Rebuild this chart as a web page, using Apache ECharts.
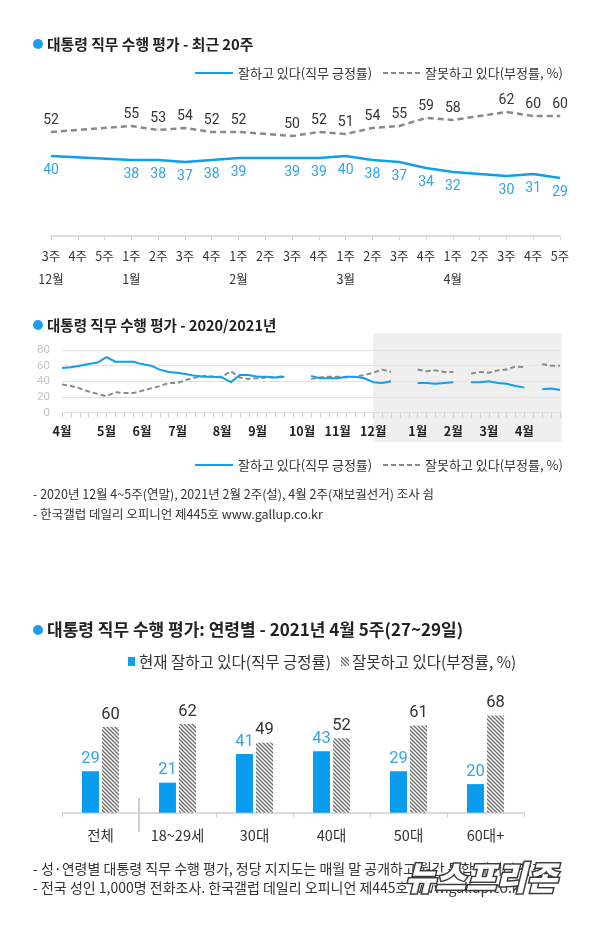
<!DOCTYPE html>
<html><head><meta charset="utf-8">
<script src="https://cdn.jsdelivr.net/npm/echarts@6/dist/echarts.min.js"></script>
<style>html,body{margin:0;padding:0;background:#fff}#c{width:600px;height:947px}</style>
</head><body><div id="c"></div>
<script>
// ---- Panel 1: 최근 20주 ----
const weeks20 = ['3주','4주','5주','1주','2주','3주','4주','1주','2주','3주','4주','1주','2주','3주','4주','1주','2주','3주','4주','5주'];
const months20 = ['12월','','','1월','','','','2월','','','','3월','','','','4월','','','',''];
const pos20 = [40,null,null,38,38,37,38,39,null,39,39,40,38,37,34,32,null,30,31,29];
const neg20 = [52,null,null,55,53,54,52,52,null,50,52,51,54,55,59,58,null,62,60,60];

// ---- Panel 2: 2020/2021년 (weekly) ----
const yearMonths = ['4월','5월','6월','7월','8월','9월','10월','11월','12월','1월','2월','3월','4월'];
const yearMonthWeeks = [5,4,4,5,4,5,4,4,5,4,4,4,5];
const posEarly = [57,58,60,62,64,71,65,65,65,62,60,55,52,51,49,47,46,46,45,39,48,48,46,46,45,46,null,null,47,44,44,44,46,46,44,39,38];
const negEarly = [36,34,31,27,24,21,26,25,25,28,31,34,38,38,42,45,47,46,46,53,45,43,44,45,45,47,null,null,43,45,46,46,45,46,48,51,55];

// ---- Panel 3: 연령별 ----
const ageCats = ['전체','18~29세','30대','40대','50대','60대+'];
const agePos = [29,21,41,43,29,20];
const ageNeg = [60,62,49,52,61,68];

const posYear = posEarly.concat(pos20);
const negYear = negEarly.concat(neg20);
const yearCats = [];
const monthStartIdx = {};
yearMonths.forEach((m, i) => {
  monthStartIdx[yearCats.length] = m;
  for (let w = 1; w <= yearMonthWeeks[i]; w++) yearCats.push((i < 9 ? '2020 ' : '2021 ') + m + ' ' + w + '주');
});
const cats20 = weeks20.map((w, i) => w + '|' + months20[i] + '|' + i);

const BLUE = '#0ea0ec';
const GRAY = '#8a8a8a';
const NUM = '"Roboto","Noto Sans",sans-serif';
const KR = '"Noto Sans CJK KR","Noto Sans",sans-serif';

function hatch() {
  const c = document.createElement('canvas');
  c.width = 4; c.height = 4;
  const g = c.getContext('2d');
  g.fillStyle = '#ffffff'; g.fillRect(0, 0, 4, 4);
  g.strokeStyle = '#6a6a6a'; g.lineWidth = 1.3;
  g.beginPath();
  g.moveTo(-1, -1); g.lineTo(5, 5);
  g.moveTo(-1, 3); g.lineTo(1, 5);
  g.moveTo(3, -1); g.lineTo(5, 1);
  g.stroke();
  return c;
}
const hatchPattern = { image: hatch(), repeat: 'repeat' };

function title(id, y, text, size) {
  return [
    { type: 'circle', id: id + 'dot', shape: { cx: 38, cy: y, r: 5 }, style: { fill: '#1a9ff0' } },
    { type: 'text', id: id + 'txt', x: 47, y: y, style: { text: text, font: 'bold ' + size + 'px ' + KR, fill: '#222', verticalAlign: 'middle' } }
  ];
}
function lineLegend(id, y) {
  return [
    { type: 'line', id: id + 'l1', shape: { x1: 195, y1: y, x2: 233, y2: y }, style: { stroke: BLUE, lineWidth: 2 } },
    { type: 'text', id: id + 't1', x: 238, y: y, style: { text: '잘하고 있다(직무 긍정률)', font: '13px ' + KR, fill: '#333', verticalAlign: 'middle' } },
    { type: 'line', id: id + 'l2', shape: { x1: 383, y1: y, x2: 420, y2: y }, style: { stroke: GRAY, lineWidth: 2, lineDash: [5, 3] } },
    { type: 'text', id: id + 't2', x: 425, y: y, style: { text: '잘못하고 있다(부정률, %)', font: '13px ' + KR, fill: '#333', verticalAlign: 'middle' } }
  ];
}

const graphics = [].concat(
  title('t1', 44, '대통령 직무 수행 평가 - 최근 20주', 14.8),
  lineLegend('lg1', 73),
  title('t2', 325, '대통령 직무 수행 평가 - 2020/2021년', 14.5),
  lineLegend('lg2', 465),
  [
    { type: 'text', id: 'n1', x: 33, y: 494, style: { text: '- 2020년 12월 4~5주(연말), 2021년 2월 2주(설), 4월 2주(재보궐선거) 조사 쉼', font: '12.5px ' + KR, fill: '#333', verticalAlign: 'middle' } },
    { type: 'text', id: 'n2', x: 33, y: 514, style: { text: '- 한국갤럽 데일리 오피니언 제445호 www.gallup.co.kr', font: '12.5px ' + KR, fill: '#333', verticalAlign: 'middle' } }
  ],
  title('t3', 630, '대통령 직무 수행 평가: 연령별 - 2021년 4월 5주(27~29일)', 17),
  [
    { type: 'rect', id: 'lg3a', shape: { x: 128, y: 657, width: 7, height: 9 }, style: { fill: BLUE } },
    { type: 'text', id: 'lg3at', x: 139, y: 662, style: { text: '현재 잘하고 있다(직무 긍정률)', font: '15.5px ' + KR, fill: '#333', verticalAlign: 'middle' } },
    { type: 'rect', id: 'lg3b', shape: { x: 341, y: 657, width: 8, height: 9 }, style: { fill: hatchPattern } },
    { type: 'text', id: 'lg3bt', x: 352, y: 662, style: { text: '잘못하고 있다(부정률, %)', font: '15.5px ' + KR, fill: '#333', verticalAlign: 'middle' } },
    { type: 'text', id: 'f1', x: 33, y: 869, style: { text: '- 성·연령별 대통령 직무 수행 평가, 정당 지지도는 매월 말 공개하고 월간 통합 데이터 참조', font: '14px ' + KR, fill: '#333', verticalAlign: 'middle' } },
    { type: 'text', id: 'f2', x: 33, y: 888, style: { text: '- 전국 성인 1,000명 전화조사. 한국갤럽 데일리 오피니언 제445호 www.gallup.co.kr', font: '14px ' + KR, fill: '#333', verticalAlign: 'middle' } },
    { type: 'text', id: 'wm', x: 405, y: 877, z: 100, style: { text: '뉴스프리존', font: 'italic 900 33px ' + KR, fill: '#ffffff', stroke: '#3a3a3a', lineWidth: 3, verticalAlign: 'middle' } }
  ]
);

const chart = echarts.init(document.getElementById('c'), null, { renderer: 'canvas' });
const option = {
  animation: false,
  backgroundColor: '#fff',
  grid: [
    { left: 51, right: 40, top: 36, height: 200 },
    { left: 62, right: 40, top: 350, height: 62.7 },
    { left: 62, right: 76, top: 669.7, height: 143 }
  ],
  xAxis: [
    {
      gridIndex: 0, type: 'category', data: cats20, boundaryGap: false,
      axisLine: { lineStyle: { color: '#d4d4d4', width: 1.5 } },
      axisTick: { show: true, length: 4, interval: 0, lineStyle: { color: '#d4d4d4' } },
      axisLabel: {
        interval: 0, margin: 9,
        formatter: function (v) { const p = v.split('|'); return '{w|' + p[0] + '}\n{m|' + (p[1] || ' ') + '}'; },
        rich: { w: { fontSize: 12.5, fontFamily: KR, color: '#333', lineHeight: 23 }, m: { fontSize: 12.5, fontFamily: KR, color: '#333', lineHeight: 23 } }
      }
    },
    {
      gridIndex: 1, type: 'category', data: yearCats, boundaryGap: false,
      axisLine: { show: false },
      axisTick: { show: true, length: 5, interval: 0, lineStyle: { color: '#cfcfcf' } },
      axisLabel: {
        margin: 12, fontSize: 12.5, fontWeight: 'bold', color: '#222', fontFamily: KR,
        interval: function (i) { return monthStartIdx[i] !== undefined; },
        formatter: function (v, i) { return monthStartIdx[i] || ''; }
      }
    },
    {
      gridIndex: 2, type: 'category', data: ageCats,
      axisLine: { lineStyle: { color: '#cfcfcf', width: 1.5 } },
      axisTick: { show: true, length: 5, lineStyle: { color: '#cfcfcf' } },
      axisLabel: { margin: 16, fontSize: 14.5, color: '#333', fontFamily: KR }
    }
  ],
  yAxis: [
    { gridIndex: 0, type: 'value', min: 0, max: 100, show: false },
    {
      gridIndex: 1, type: 'value', min: 0, max: 80, interval: 20,
      axisLine: { show: false }, axisTick: { show: false },
      axisLabel: { color: '#c4c4c4', fontSize: 11.5, margin: 12, fontFamily: '"Roboto",sans-serif' },
      splitLine: { lineStyle: { color: '#e2e2e2' } }
    },
    { gridIndex: 2, type: 'value', min: 0, max: 100, show: false }
  ],
  series: [
    {
      type: 'line', xAxisIndex: 0, yAxisIndex: 0, data: neg20, connectNulls: true,
      symbol: 'circle', symbolSize: 1, itemStyle: { color: GRAY },
      lineStyle: { color: GRAY, width: 2.5, type: [6, 4] },
      label: { show: true, position: 'top', distance: 4, color: '#333', fontSize: 14, fontFamily: NUM }
    },
    {
      type: 'line', xAxisIndex: 0, yAxisIndex: 0, data: pos20, connectNulls: true,
      symbol: 'circle', symbolSize: 1, itemStyle: { color: BLUE },
      lineStyle: { color: BLUE, width: 2.5 },
      label: { show: true, position: 'bottom', distance: 7, color: '#2fa3ec', fontSize: 14, fontFamily: NUM }
    },
    {
      type: 'line', xAxisIndex: 1, yAxisIndex: 1, data: negYear, showSymbol: false, connectNulls: false,
      lineStyle: { color: GRAY, width: 2, type: [5, 3] }, itemStyle: { color: GRAY }
    },
    {
      type: 'line', xAxisIndex: 1, yAxisIndex: 1, data: posYear, showSymbol: false, connectNulls: false,
      lineStyle: { color: BLUE, width: 2 }, itemStyle: { color: BLUE }
    },
    {
      type: 'bar', xAxisIndex: 2, yAxisIndex: 2, data: agePos, barWidth: 17, barGap: '18%',
      itemStyle: { color: '#0a9cee' },
      label: { show: true, position: 'top', distance: 4, color: '#35a5ee', fontSize: 16.5, fontFamily: NUM }
    },
    {
      type: 'bar', xAxisIndex: 2, yAxisIndex: 2, data: ageNeg, barWidth: 17,
      itemStyle: { color: hatchPattern },
      label: { show: true, position: 'top', distance: 4, color: '#333', fontSize: 16.5, fontFamily: NUM }
    }
  ],
  graphic: graphics
};
chart.setOption(option);

// shaded 2021 region and age separator, positioned from the axes
const xs0 = chart.convertToPixel({ xAxisIndex: 1 }, 35);
const xs1 = chart.convertToPixel({ xAxisIndex: 1 }, yearCats.length - 1) + 2;
const a0 = chart.convertToPixel({ xAxisIndex: 2 }, 0);
const a1 = chart.convertToPixel({ xAxisIndex: 2 }, 1);
const sep = (a0 + a1) / 2;
chart.setOption({
  graphic: [
    { type: 'rect', id: 'shade', z: -10, shape: { x: xs0, y: 333, width: xs1 - xs0, height: 109 }, style: { fill: '#efefef' } },
    { type: 'line', id: 'sep', shape: { x1: sep, y1: 798, x2: sep, y2: 832 }, style: { stroke: '#9a9a9a', lineWidth: 1 } }
  ]
});
</script>
</body></html>
